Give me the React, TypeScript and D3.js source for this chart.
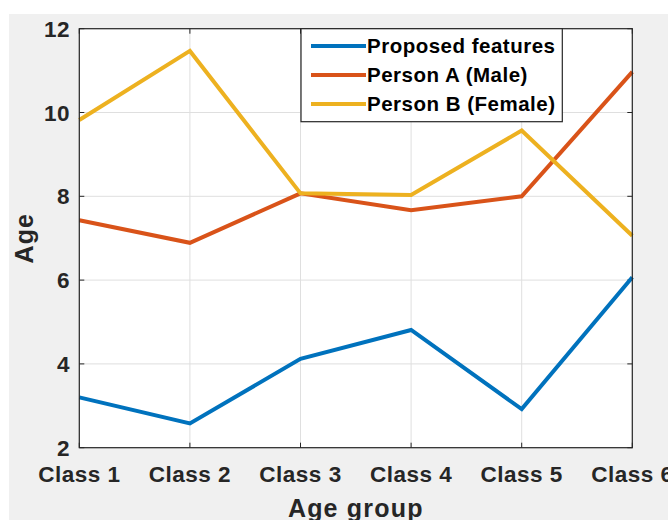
import React from "react";
import * as d3 from "d3";

const categories = ["Class 1", "Class 2", "Class 3", "Class 4", "Class 5", "Class 6"];
const proposed = [3.2, 2.58, 4.12, 4.81, 2.92, 6.07];
const personA = [7.43, 6.89, 8.07, 7.67, 8.0, 10.97];
const personB = [9.82, 11.47, 8.07, 8.03, 9.57, 7.06];
const yTicks = [2, 4, 6, 8, 10, 12];
const seriesNames = ["Proposed features", "Person A (Male)", "Person B (Female)"];
const seriesColors = ["#0072BD", "#D95319", "#EDB120"];

export default function App() {
  const W = 668, H = 520;
  const left = 79.3, right = 632.3, top = 28.7, bottom = 447.7;
  const x = d3.scalePoint<string>().domain(categories).range([left, right]);
  const y = d3.scaleLinear().domain([2, 12]).range([bottom, top]);
  const line = d3.line<number>().x((_, i) => x(categories[i])!).y((d) => y(d));
  const series = [proposed, personA, personB];
  const font = "'Liberation Sans', Arial, Helvetica, sans-serif";
  const txt = "#262626";
  const grid = "#dfdfdf";
  const tick = 5;
  const legX = 301, legY = 28.7, legW = 261.3, legH = 93;
  return (
    <svg width={W} height={H} style={{ position: "absolute", left: 0, top: 0 }} fontFamily={font}>
      <rect x={0} y={0} width={W} height={H} fill="#ffffff" />
      <rect x={9} y={14} width={W - 9} height={H - 14} fill="#f0f0f0" />
      <rect x={left} y={top} width={right - left} height={bottom - top} fill="#ffffff" />
      {/* grid */}
      {categories.map((c) => (
        <line key={"gx" + c} x1={x(c)} x2={x(c)} y1={top} y2={bottom} stroke={grid} strokeWidth={1} />
      ))}
      {yTicks.map((t) => (
        <line key={"gy" + t} x1={left} x2={right} y1={y(t)} y2={y(t)} stroke={grid} strokeWidth={1} />
      ))}
      {/* ticks */}
      {categories.map((c) => (
        <g key={"tx" + c}>
          <line x1={x(c)} x2={x(c)} y1={bottom} y2={bottom - tick} stroke={txt} strokeWidth={1} />
          <line x1={x(c)} x2={x(c)} y1={top} y2={top + tick} stroke={txt} strokeWidth={1} />
        </g>
      ))}
      {yTicks.map((t) => (
        <g key={"ty" + t}>
          <line x1={left} x2={left + tick} y1={y(t)} y2={y(t)} stroke={txt} strokeWidth={1} />
          <line x1={right} x2={right - tick} y1={y(t)} y2={y(t)} stroke={txt} strokeWidth={1} />
        </g>
      ))}
      {/* lines */}
      {series.map((s, i) => (
        <path key={"s" + i} d={line(s)!} fill="none" stroke={seriesColors[i]} strokeWidth={4} strokeLinejoin="miter" />
      ))}
      {/* box */}
      <rect x={left} y={top} width={right - left} height={bottom - top} fill="none" stroke={txt} strokeWidth={1.2} />
      {/* tick labels */}
      {categories.map((c) => (
        <text key={"lx" + c} x={x(c)} y={481.5} textAnchor="middle" fontSize={22.5} fontWeight="bold" fill={txt} letterSpacing={0.5}>
          {c}
        </text>
      ))}
      {yTicks.map((t) => (
        <text key={"ly" + t} x={70} y={y(t)} dy="0.36em" textAnchor="end" fontSize={22.5} fontWeight="bold" fill={txt} letterSpacing={0.5}>
          {t}
        </text>
      ))}
      {/* axis labels */}
      <text x={(left + right) / 2} y={516.5} textAnchor="middle" fontSize={25} fontWeight="bold" fill={txt} letterSpacing={1.2}>
        Age group
      </text>
      <text transform={`translate(33,${(top + bottom) / 2}) rotate(-90)`} textAnchor="middle" fontSize={25} fontWeight="bold" fill={txt} letterSpacing={1.2}>
        Age
      </text>
      {/* legend */}
      <rect x={legX} y={legY} width={legW} height={legH} fill="#ffffff" stroke={txt} strokeWidth={1.2} />
      {seriesNames.map((n, i) => {
        const ry = 46 + i * 29;
        return (
          <g key={"lg" + i}>
            <line x1={311} x2={366} y1={ry} y2={ry} stroke={seriesColors[i]} strokeWidth={4} />
            <text x={367} y={ry} dy="0.36em" fontSize={20.5} fontWeight="bold" fill="#000000" letterSpacing={0.5}>
              {n}
            </text>
          </g>
        );
      })}
    </svg>
  );
}
